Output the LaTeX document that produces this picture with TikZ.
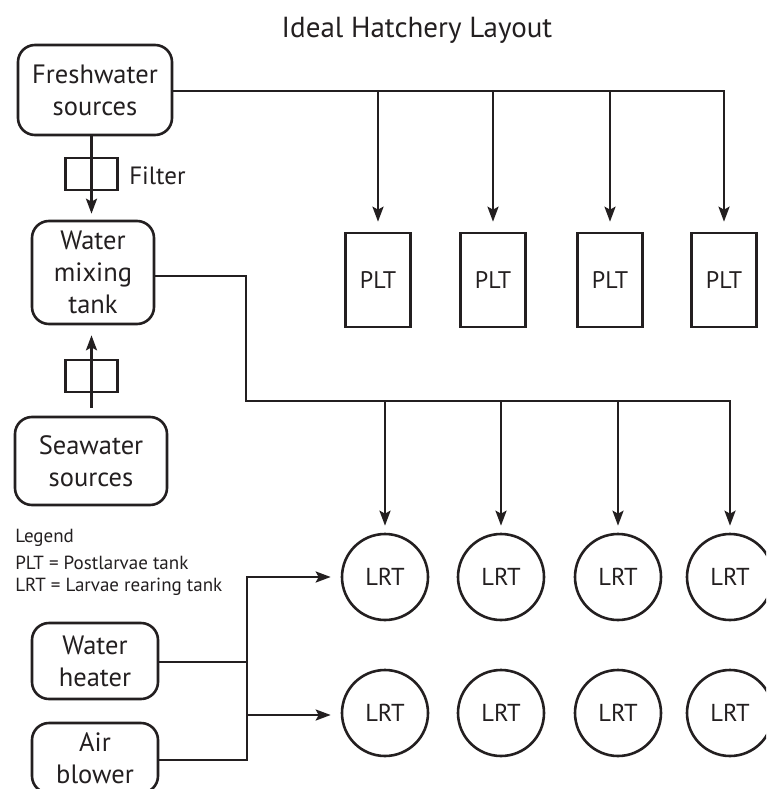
\documentclass[tikz,border=0pt]{standalone}
\usepackage{fontspec}
\setmainfont{PT Sans}
\usetikzlibrary{arrows.meta,calc}
\definecolor{ink}{RGB}{35,31,32}
\begin{document}
\begin{tikzpicture}[x=1pt,y=-1pt,
  every node/.style={text=ink},
  line width=2.6pt, draw=ink,
  rbox/.style={draw=ink, line width=2.6pt, rounded corners=17pt, align=center, inner sep=0pt,
    font=\fontsize{26.5}{32}\selectfont},
  tankbox/.style={draw=ink, line width=2.6pt, minimum width=65pt, minimum height=94pt, inner sep=0pt,
    font=\fontsize{24}{28}\selectfont},
  tankcirc/.style={draw=ink, line width=2.6pt, circle, minimum size=86pt, inner sep=0pt,
    font=\fontsize{24.5}{28}\selectfont},
  filterbox/.style={draw=ink, line width=2.6pt, minimum width=52pt, minimum height=32pt, inner sep=0pt},
  legtext/.style={anchor=west, inner sep=0pt, font=\fontsize{19}{22}\selectfont},
  conn/.style={draw=ink, line width=2.6pt},
  arr/.style={conn, -{Stealth[length=15pt,width=11pt,inset=3pt]}}
]
\useasboundingbox (0,0) rectangle (766,789);
\clip (0,0) rectangle (766,789);

% title
\node[anchor=base, inner sep=0pt, font=\fontsize{29}{34}\selectfont] (title) at (417,38) {Ideal Hatchery Layout};

% left column
\node[rbox, minimum width=154pt, minimum height=90pt] (fresh) at (95,90) {Freshwater\\sources};
\node[filterbox] (filt1) at (91.5,174) {};
\node[anchor=west, inner sep=0pt, font=\fontsize{25}{28}\selectfont] (filtlab) at (128,176) {Filter};
\node[rbox, minimum width=122pt, minimum height=103pt] (mix) at (93,272.5) {Water\\mixing\\tank};
\node[filterbox] (filt2) at (91.5,376) {};
\node[rbox, minimum width=152pt, minimum height=88pt] (sea) at (91,461) {Seawater\\sources};

% legend
\node[legtext] (leg1) at (14,538) {Legend};
\node[legtext] (leg2) at (14,563) {PLT = Postlarvae tank};
\node[legtext] (leg3) at (14,587) {LRT = Larvae rearing tank};

\node[rbox, minimum width=126pt, minimum height=76pt] (heater) at (95,661) {Water\\heater};
\node[rbox, minimum width=126pt, minimum height=70pt] (blower) at (95,758) {Air\\blower};

% PLT tanks
\node[tankbox] (plt1) at (378,280) {PLT};
\node[tankbox] (plt2) at (493,280) {PLT};
\node[tankbox] (plt3) at (610,280) {PLT};
\node[tankbox] (plt4) at (724,280) {PLT};

% LRT tanks
\node[tankcirc] (lrt11) at (385,577) {LRT};
\node[tankcirc] (lrt12) at (501,577) {LRT};
\node[tankcirc] (lrt13) at (618,577) {LRT};
\node[tankcirc] (lrt14) at (730,577) {LRT};
\node[tankcirc] (lrt21) at (385,713) {LRT};
\node[tankcirc] (lrt22) at (501,713) {LRT};
\node[tankcirc] (lrt23) at (618,713) {LRT};
\node[tankcirc] (lrt24) at (730,713) {LRT};

\coordinate (bend) at (246,401);
\coordinate (hj) at (247,0);
\coordinate (fout) at ([yshift=-1pt]fresh.east);
\coordinate (mout) at ([yshift=-3.5pt]mix.east);
\coordinate (hout) at ([yshift=-1pt]heater.east);
\coordinate (bout) at ([yshift=-2pt]blower.east);
\coordinate (l2in) at ([yshift=-2pt]lrt21.west);

% freshwater to PLT
\draw[arr, shorten >=10pt] (fout) -| (plt4.north);
\foreach \i in {1,2,3}{
  \draw[arr, shorten >=10pt] (plt\i.north |- fout) -- (plt\i.north);
}

% freshwater -> filter -> mix
\draw[arr, shorten >=6pt] (fresh.south -| filt1) -- (mix.north -| filt1);
% seawater -> filter -> mix
\draw[arr, shorten <=8pt, shorten >=10pt] (sea.north -| filt2) -- (mix.south -| filt2);

% mix to LRT
\draw[arr, shorten >=7pt] (mout) -| (bend) -| (lrt14.north);
\foreach \i in {1,2,3}{
  \draw[arr, shorten >=7pt] (lrt1\i.north |- bend) -- (lrt1\i.north);
}

% heater/blower to LRT
\draw[conn] (hout) -- (hout -| hj);
\draw[arr, shorten >=10pt] (bout) -| (lrt11.west -| hj) -- (lrt11.west);
\draw[arr, shorten >=10pt] (l2in -| hj) -- (l2in);
\end{tikzpicture}
\end{document}
